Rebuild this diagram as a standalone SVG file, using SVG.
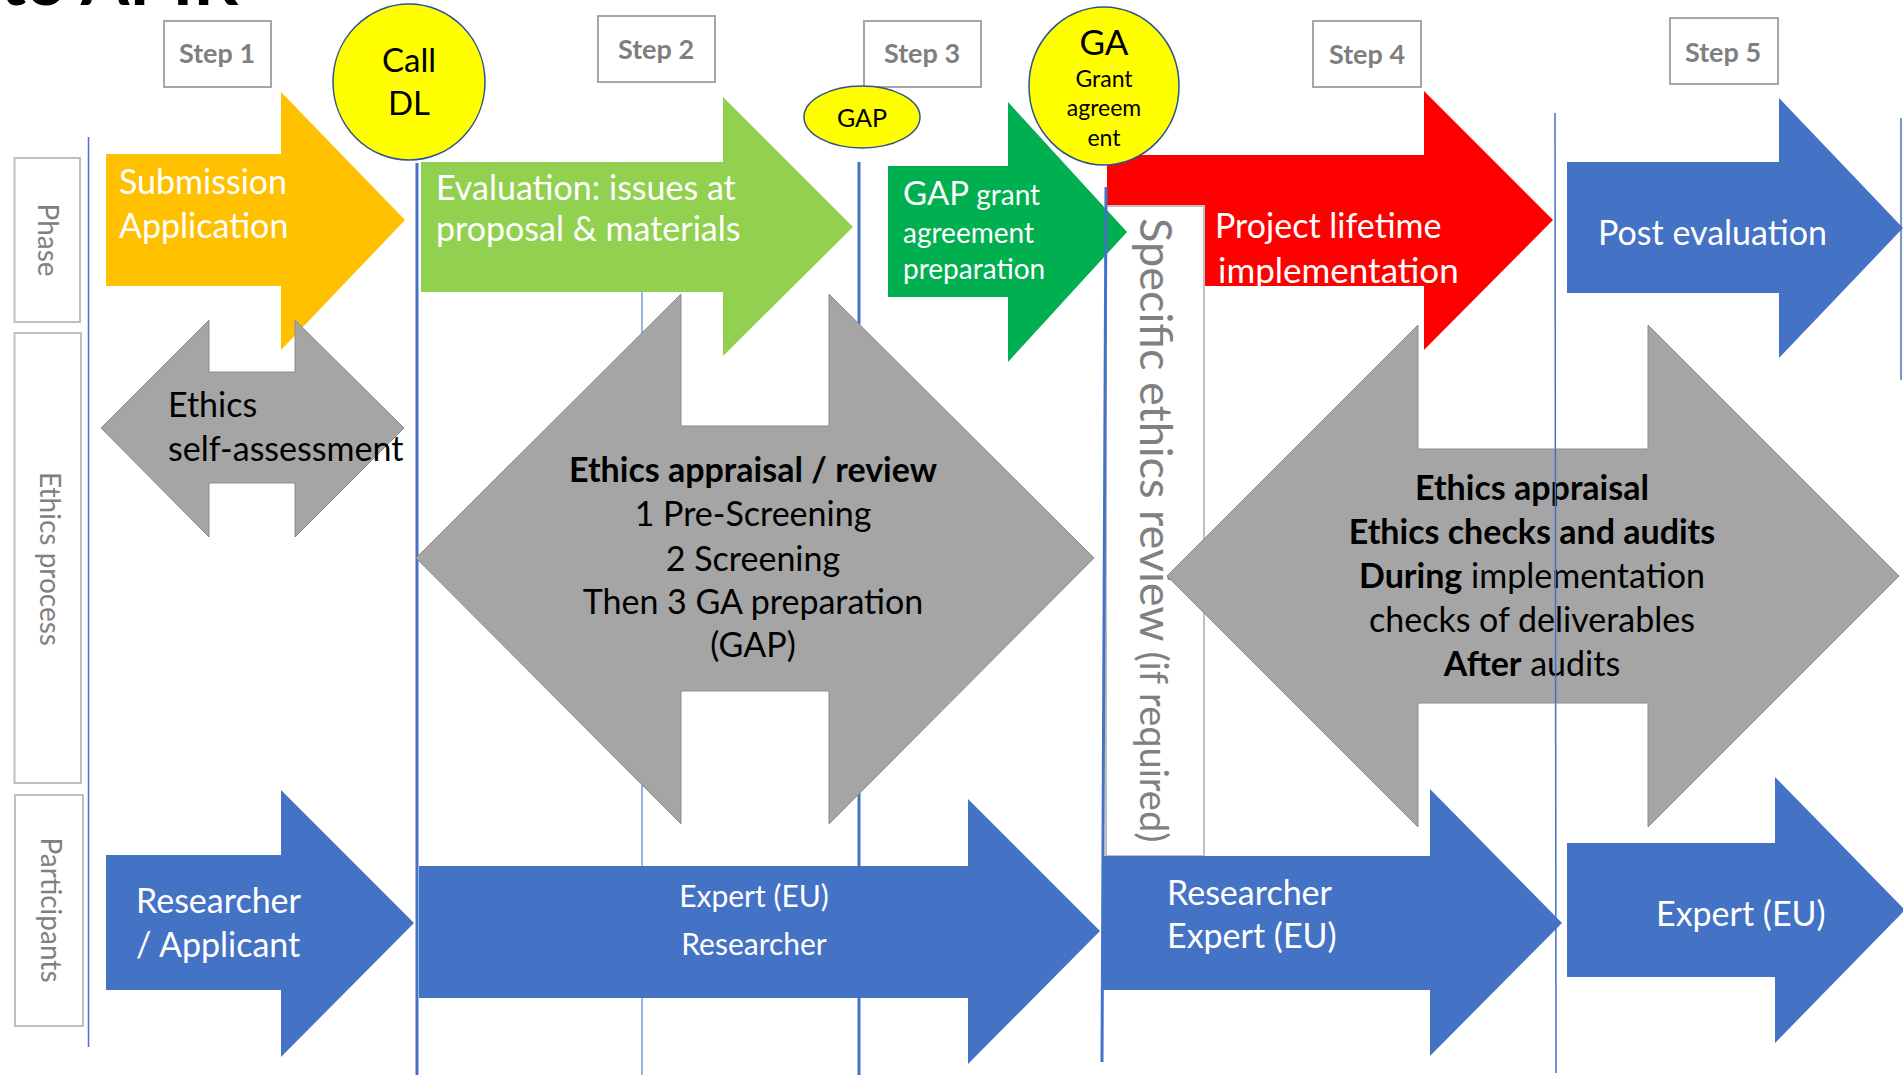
<svg xmlns="http://www.w3.org/2000/svg" width="1903" height="1075" viewBox="0 0 1903 1075">
<style>
  text { font-family: Lato, "Open Sans", "Liberation Sans", sans-serif; }
  .w { fill: #ffffff; font-size: 34px; }
  .blk { fill: #000000; font-size: 34px; }
  .b { font-weight: bold; }
  .step { fill: #7f7f7f; font-size: 27px; font-weight: bold; text-anchor: middle; }
  .stepbox { fill: #ffffff; stroke: #a6a6a6; stroke-width: 2; }
  .side { fill: #ffffff; stroke: #bfbfbf; stroke-width: 2; }
  .sidet { fill: #808080; font-size: 28px; text-anchor: middle; }
  .ell { fill: #ffff00; stroke: #2f528f; stroke-width: 1.5; }
  .gray { fill: #a5a5a5; stroke: #8c8c8c; stroke-width: 1; }
  .blue { fill: #4472c4; }
  .vl { stroke: #4472c4; fill: none; }
  .mid { text-anchor: middle; }
</style>
<rect width="1903" height="1075" fill="#ffffff"/>
<text x="0" y="5" style="font-family: Lato, 'Liberation Sans', sans-serif; font-size: 70px; font-weight: bold; fill: #000;">to APIR</text>

<g id="connectors">
  <line class="vl" x1="88.5" y1="137" x2="88.5" y2="1047" stroke-width="1.5"/>
  <line class="vl" x1="417" y1="163" x2="417" y2="1075" stroke-width="3"/>
  <line class="vl" x1="642" y1="240" x2="642" y2="1075" stroke-width="1.5" style="stroke:#7a9bd8"/>
  <line class="vl" x1="859" y1="162" x2="859" y2="1075" stroke-width="3"/>
  <line class="vl" x1="1901" y1="118" x2="1901" y2="380" stroke-width="1.5"/>
</g>

<g id="phase-label"><rect class="side" x="14.5" y="158" width="65.5" height="164"/><text class="sidet" transform="translate(38,240) rotate(90)">Phase</text></g>
<g id="ethics-label"><rect class="side" x="14.5" y="333" width="66.5" height="450"/><text class="sidet" transform="translate(40,559) rotate(90)">Ethics process</text></g>
<g id="participants-label"><rect class="side" x="15" y="795" width="68" height="231"/><text class="sidet" transform="translate(41,910) rotate(90)">Participants</text></g>

<g id="step1"><rect class="stepbox" x="164" y="21" width="107" height="66"/><text class="step" x="217" y="63">Step 1</text></g>
<g id="step2"><rect class="stepbox" x="598" y="16" width="117" height="66"/><text class="step" x="656" y="59">Step 2</text></g>
<g id="step3"><rect class="stepbox" x="864" y="21" width="117" height="66"/><text class="step" x="922" y="63">Step 3</text></g>
<g id="step4"><rect class="stepbox" x="1313" y="21" width="108" height="66"/><text class="step" x="1367" y="64">Step 4</text></g>
<g id="step5"><rect class="stepbox" x="1670" y="18" width="108" height="66"/><text class="step" x="1723" y="62">Step 5</text></g>

<g id="submission">
  <polygon points="106,154 281,154 281,92 405,220 281,350 281,286 106,286" fill="#ffc000"/>
  <text class="w" x="119" y="194">Submission</text>
  <text class="w" x="119" y="238">Application</text>
</g>
<g id="evaluation">
  <polygon points="421,162 723,162 723,97 853,227 723,356 723,292 421,292" fill="#92d050"/>
  <text class="w" x="436" y="200">Evaluation: issues at</text>
  <text class="w" x="436" y="241">proposal &amp; materials</text>
</g>
<g id="project">
  <polygon points="1107,155 1424,155 1424,91 1553,220 1424,350 1424,286 1107,286" fill="#ff0000"/>
  <text class="w" x="1215" y="238">Project lifetime</text>
  <text class="w" x="1218" y="283" style="font-size:35px">implementation</text>
</g>
<g id="specific">
  <rect x="1106" y="206" width="98" height="650" fill="#ffffff" stroke="#bfbfbf" stroke-width="2"/>
  <text transform="translate(1140,218) rotate(90)" style="fill:#808080;font-size:45px;">Specific ethics review<tspan style="font-size:38px;">  (if required)</tspan></text>
</g>
<g id="gap-prep">
  <polygon points="888,166 1008,166 1008,102 1127,232 1008,362 1008,297 888,297" fill="#00b050"/>
  <text class="w" x="903" y="205"><tspan style="font-size:33px">GAP</tspan><tspan style="font-size:28px"> grant</tspan></text>
  <text class="w" x="903" y="243" style="font-size:28px">agreement</text>
  <text class="w" x="903" y="279" style="font-size:28px">preparation</text>
</g>
<g id="post-eval">
  <polygon points="1567,162 1779,162 1779,98 1903,228 1779,358 1779,293 1567,293" fill="#4472c4"/>
  <text class="w" x="1598" y="245">Post evaluation</text>
</g>

<g id="call-dl"><ellipse class="ell" cx="409" cy="82" rx="76" ry="78"/><text class="blk mid" x="409" y="72" style="font-size:33px">Call</text><text class="blk mid" x="409" y="115" style="font-size:33px">DL</text></g>
<g id="gap"><ellipse class="ell" cx="862" cy="117" rx="58" ry="31"/><text class="blk mid" x="862" y="127" style="font-size:25px">GAP</text></g>
<g id="ga"><ellipse class="ell" cx="1104" cy="86" rx="75" ry="79"/>
  <text class="blk mid" x="1104" y="55" style="font-size:35px">GA</text>
  <text class="blk mid" x="1104" y="87" style="font-size:23px">Grant</text>
  <text class="blk mid" x="1104" y="116" style="font-size:23px">agreem</text>
  <text class="blk mid" x="1104" y="146" style="font-size:23px">ent</text>
</g>

<g id="self-assessment">
  <polygon class="gray" points="101,428 209,320 209,372 295,372 295,320 404,428 295,537 295,483 209,483 209,537"/>
  <text class="blk" x="168" y="417">Ethics</text>
  <text class="blk" x="168" y="461">self-assessment</text>
</g>
<g id="appraisal-review">
  <polygon class="gray" points="416,558 681,294 681,426 829,426 829,294 1094,558 829,824 829,691 681,691 681,824"/>
  <text class="blk mid b" x="753" y="482">Ethics appraisal / review</text>
  <text class="blk mid" x="753" y="526">1 Pre-Screening</text>
  <text class="blk mid" x="753" y="571">2 Screening</text>
  <text class="blk mid" x="753" y="614">Then 3 GA preparation</text>
  <text class="blk mid" x="753" y="657">(GAP)</text>
</g>
<g id="checks-audits">
  <polygon class="gray" points="1167,576 1418,325 1418,449 1648,449 1648,325 1899,576 1648,827 1648,703 1418,703 1418,827"/>
  <text class="blk mid b" x="1532" y="500">Ethics appraisal</text>
  <text class="blk mid b" x="1532" y="544">Ethics checks and audits</text>
  <text class="blk mid" x="1532" y="588"><tspan class="b">During</tspan> implementation</text>
  <text class="blk mid" x="1532" y="632">checks of deliverables</text>
  <text class="blk mid" x="1532" y="676"><tspan class="b">After</tspan> audits</text>
</g>

<g id="researcher-applicant">
  <polygon class="blue" points="106,855 281,855 281,790 414,923 281,1057 281,990 106,990"/>
  <text class="w" x="136" y="913">Researcher</text>
  <text class="w" x="136" y="957">/ Applicant</text>
</g>
<g id="expert-researcher">
  <polygon class="blue" points="419,866 968,866 968,799 1100,931 968,1064 968,998 419,998"/>
  <text class="w mid" x="754" y="907" style="font-size:30px">Expert (EU)</text>
  <text class="w mid" x="754" y="955" style="font-size:30px">Researcher</text>
</g>
<g id="researcher-expert">
  <polygon class="blue" points="1102,856 1430,856 1430,789 1562,923 1430,1056 1430,990 1102,990"/>
  <text class="w" x="1167" y="905">Researcher</text>
  <text class="w" x="1167" y="948">Expert (EU)</text>
</g>
<g id="expert">
  <polygon class="blue" points="1567,843 1775,843 1775,777 1905,910 1775,1043 1775,977 1567,977"/>
  <text class="w" x="1656" y="926">Expert (EU)</text>
</g>

<g id="connectors-top">
  <line class="vl" x1="1106" y1="187" x2="1102" y2="1062" stroke-width="3"/>
  <line class="vl" x1="1555" y1="113" x2="1556" y2="1073" stroke-width="1.5"/>
</g>
</svg>
